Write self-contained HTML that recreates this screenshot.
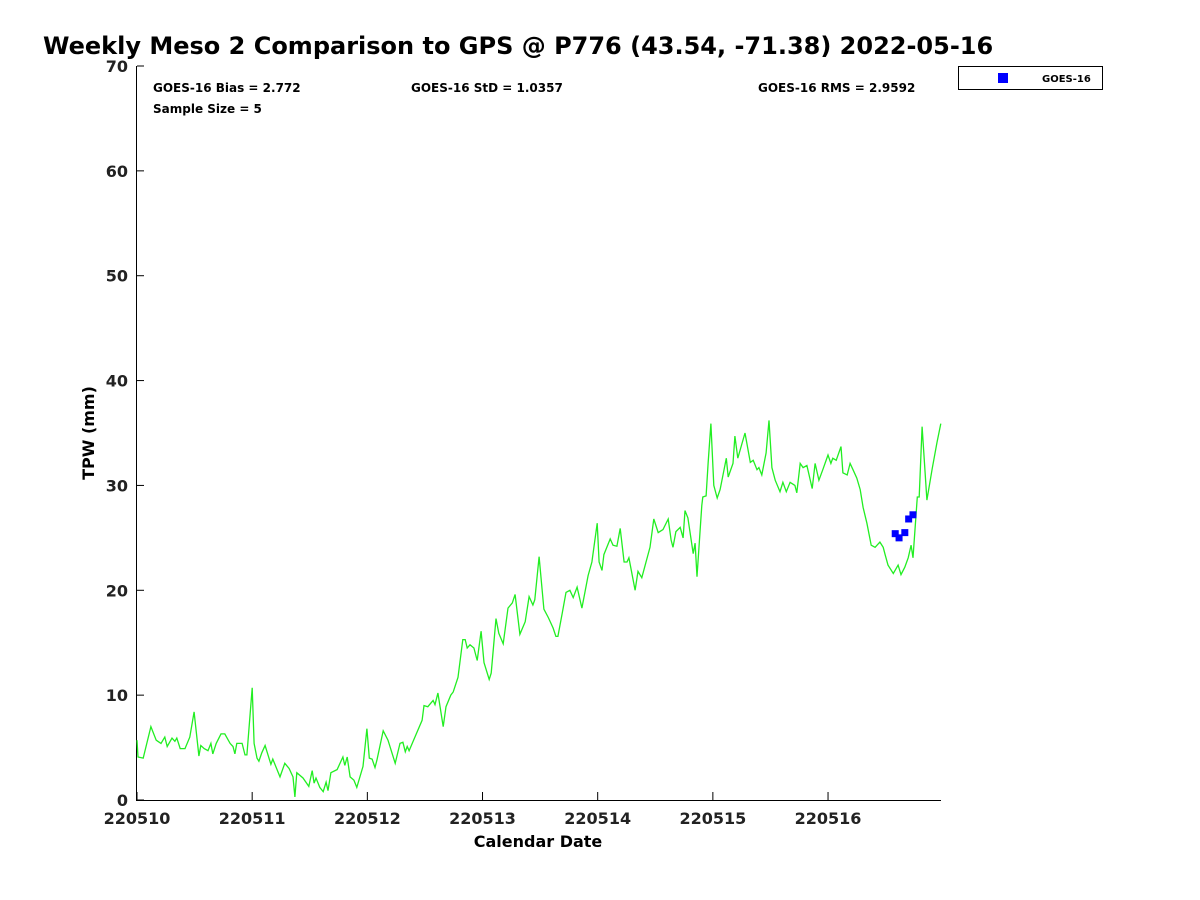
<!DOCTYPE html>
<html><head><meta charset="utf-8"><style>
body{margin:0;background:#fff;}
svg{display:block;font-family:"DejaVu Sans","Liberation Sans",sans-serif;font-weight:bold;}
</style></head><body>
<svg id="chart" width="1200" height="900">
<text x="43" y="54" font-size="24" fill="#000">Weekly Meso 2 Comparison to GPS @ P776 (43.54, -71.38) 2022-05-16</text>
<text x="153" y="92" font-size="12">GOES-16 Bias = 2.772</text>
<text x="411" y="92" font-size="12">GOES-16 StD = 1.0357</text>
<text x="758" y="92" font-size="12">GOES-16 RMS = 2.9592</text>
<text x="153" y="113" font-size="12">Sample Size = 5</text>
<g>
<rect x="958.5" y="66.5" width="144" height="23" fill="#fff" stroke="#000"/>
<rect x="998" y="73" width="10" height="10" fill="#0000ff"/>
<text x="1042" y="82" font-size="10">GOES-16</text>
</g>
<text transform="translate(94,433) rotate(-90)" text-anchor="middle" font-size="16">TPW (mm)</text>
<text x="538" y="847" text-anchor="middle" font-size="16">Calendar Date</text>
<g id="axes"></g>
<g id="marks"></g>
</svg>
<script>
const gpsHours=[0,0.2,1.3,2.9,4.0,5.0,5.8,6.3,7.3,7.9,8.3,9.0,10.0,11.0,11.9,12.9,13.3,14.0,14.8,15.4,15.8,16.5,17.5,18.3,19.4,20.0,20.4,20.8,21.9,22.5,22.9,24.0,24.4,25.0,25.4,26.0,26.7,27.3,27.9,28.3,29.0,29.8,30.8,31.7,32.5,32.9,33.3,34.6,35.8,36.5,36.9,37.3,38.1,38.8,39.4,39.8,40.4,41.7,42.9,43.3,43.8,44.4,45.2,45.8,47.1,47.9,48.4,49.0,49.6,50.0,51.3,52.3,53.8,54.8,55.4,55.9,56.3,56.7,57.9,59.4,59.8,60.6,61.7,62.1,62.7,63.8,64.4,65.4,65.9,66.9,67.9,68.4,68.8,69.4,70.2,70.9,71.7,72.3,73.4,73.8,74.8,75.4,76.3,77.3,78.2,78.8,79.8,80.9,81.7,82.5,82.9,83.8,84.8,85.7,86.7,87.3,87.7,88.6,89.4,90.2,90.9,91.7,92.7,94.0,94.8,95.9,96.3,96.9,97.3,98.6,99.2,100.0,100.7,101.5,102.1,102.5,103.8,104.4,105.2,106.9,107.7,108.6,109.6,110.7,111.3,111.7,112.3,113.2,113.8,114.2,114.8,115.9,116.3,116.7,117.7,117.9,118.6,119.0,119.6,120.2,120.9,121.5,122.8,123.2,124.2,124.6,125.2,126.7,127.8,128.4,129.2,129.6,130.2,131.1,131.7,132.3,133.0,134.0,134.6,135.3,136.1,137.1,137.5,138.2,138.8,139.6,140.7,141.3,142.1,142.9,144.0,144.6,145.0,145.7,146.7,147.1,148.0,148.6,149.2,150.0,150.7,151.3,152.1,153.0,153.8,154.8,155.5,155.9,156.5,157.6,158.6,159.2,160.0,160.7,161.3,161.7,162.6,163.0,163.6,164.6,165.7,166.7,167.5];
const gpsValues=[5.7,4.1,4.0,7.0,5.7,5.4,6.0,5.1,5.9,5.6,5.9,4.9,4.9,6.0,8.4,4.2,5.2,4.9,4.7,5.4,4.4,5.4,6.3,6.3,5.4,5.1,4.4,5.4,5.4,4.3,4.3,10.7,5.4,4.0,3.7,4.5,5.2,4.3,3.4,3.9,3.1,2.2,3.5,3.0,2.2,0.3,2.6,2.1,1.3,2.8,1.6,2.1,1.2,0.8,1.7,0.9,2.6,2.9,4.1,3.3,4.1,2.2,1.9,1.2,3.2,6.8,4.0,3.9,3.1,3.8,6.6,5.7,3.5,5.4,5.5,4.6,5.1,4.7,6.0,7.6,9.0,8.9,9.5,9.1,10.2,7.0,8.9,10.0,10.3,11.7,15.3,15.3,14.5,14.8,14.5,13.3,16.1,13.1,11.5,12.1,17.3,15.9,14.9,18.3,18.8,19.6,15.8,17.0,19.4,18.6,19.1,23.2,18.2,17.4,16.4,15.6,15.6,17.8,19.8,20.0,19.3,20.3,18.3,21.4,22.7,26.4,22.7,21.9,23.4,24.9,24.3,24.2,25.9,22.7,22.7,23.1,20.0,21.8,21.2,24.1,26.8,25.5,25.8,26.8,24.8,24.1,25.6,26.0,25.0,27.6,26.9,23.5,24.5,21.3,28.1,28.9,29.0,32.1,35.9,30.0,28.8,29.6,32.6,30.8,32.1,34.7,32.6,35.0,32.2,32.4,31.5,31.7,31.0,33.1,36.2,31.7,30.5,29.4,30.3,29.4,30.3,30.0,29.3,32.1,31.7,31.9,29.7,32.1,30.5,31.5,32.9,32.1,32.6,32.4,33.7,31.2,31.0,32.1,31.5,30.7,29.6,27.9,26.4,24.3,24.1,24.6,24.1,23.4,22.4,21.6,22.4,21.5,22.2,23.1,24.3,23.1,28.9,28.9,35.6,28.6,31.6,34.1,35.9];
const goesHours=[158.0,158.8,160.0,160.8,161.7];
const goesValues=[25.4,25.0,25.5,26.8,27.2];
const yTicks=[0,10,20,30,40,50,60,70];
const xTickHours=[0,24,48,72,96,120,144];
const xTickLabels=["220510","220511","220512","220513","220514","220515","220516"];

const L=137,R=941,T=66,B=800,XMAX=167.54,YMAX=70;
const X=h=>L+h/XMAX*(R-L);
const Y=v=>B-v/YMAX*(B-T);
const NS="http://www.w3.org/2000/svg";
function mk(tag,parent){const e=document.createElementNS(NS,tag);parent.appendChild(e);return e;}
const axes=document.getElementById('axes'),marks=document.getElementById('marks');

const ax=mk('path',axes);
ax.setAttribute('d',`M${L-0.5},${T} V${B+0.5} H${R}`);
ax.setAttribute('stroke','#000');ax.setAttribute('fill','none');



yTicks.forEach(v=>{
  const y=Y(v);
  const t=mk('line',axes);
  t.setAttribute('x1',L);t.setAttribute('x2',L+7);t.setAttribute('y1',y);t.setAttribute('y2',y);t.setAttribute('stroke','#000');
  
  
  const tx=mk('text',axes);
  tx.setAttribute('x',L-9);tx.setAttribute('y',y+6);tx.setAttribute('text-anchor','end');tx.setAttribute('font-size','16');tx.setAttribute('fill','#222');
  tx.textContent=v;
  
  
});
xTickHours.forEach((h,i)=>{
  const x=X(h);
  const t=mk('line',axes);
  t.setAttribute('x1',x);t.setAttribute('x2',x);t.setAttribute('y1',B);t.setAttribute('y2',B-8);t.setAttribute('stroke','#000');
  
  
  const tx=mk('text',axes);
  tx.setAttribute('x',x);tx.setAttribute('y',B+24);tx.setAttribute('text-anchor','middle');tx.setAttribute('font-size','16');tx.setAttribute('fill','#222');
  tx.textContent=xTickLabels[i];
  
  
});

const line=mk('polyline',marks);
line.setAttribute('points',gpsHours.map((h,i)=>X(h).toFixed(1)+','+Y(gpsValues[i]).toFixed(1)).join(' '));
line.setAttribute('fill','none');line.setAttribute('stroke','#22ee22');line.setAttribute('stroke-width','1.3');



goesHours.forEach((h,i)=>{
  const r=mk('rect',marks);
  r.setAttribute('x',X(h)-3.5);r.setAttribute('y',Y(goesValues[i])-3.5);r.setAttribute('width',7);r.setAttribute('height',7);r.setAttribute('fill','#0000ff');
  
  
});
</script>
</body></html>
